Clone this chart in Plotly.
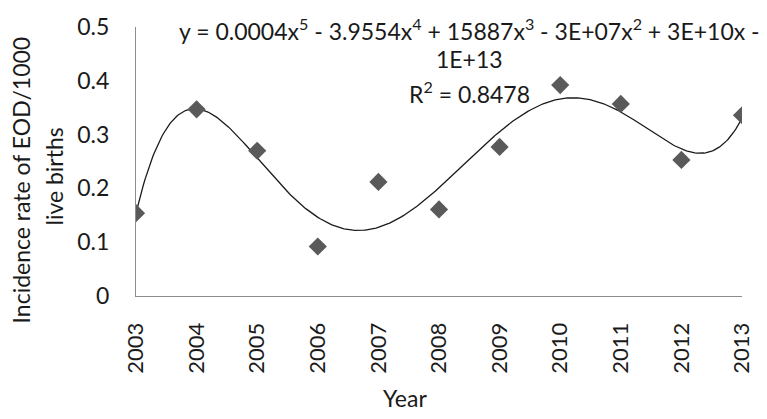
import numpy as np
import plotly.graph_objects as go

years = [2003, 2004, 2005, 2006, 2007, 2008, 2009, 2010, 2011, 2012, 2013]
rates = [0.154, 0.347, 0.270, 0.092, 0.212, 0.161, 0.277, 0.392, 0.357, 0.253, 0.336]
year_labels = [str(y) for y in years]
y_ticks = [0, 0.1, 0.2, 0.3, 0.4, 0.5]
y_tick_labels = ["0", "0.1", "0.2", "0.3", "0.4", "0.5"]
eq_line1 = "y = 0.0004x<sup>5</sup> - 3.9554x<sup>4</sup> + 15887x<sup>3</sup> - 3E+07x<sup>2</sup> + 3E+10x -"
eq_line2 = "1E+13"
eq_line3 = "R<sup>2</sup> = 0.8478"
y_title1 = "Incidence rate of EOD/1000"
y_title2 = "live births"
x_title = "Year"

# 5th-order polynomial trendline fitted to the data
xa = np.array(years, dtype=float)
ya = np.array(rates)
coef = np.polyfit(xa - 2008, ya, 5)
xs = np.linspace(2003, 2013, 400)
ys = np.polyval(coef, xs - 2008)

FONT = "Lato"
W, H = 767, 419
L, R, T, B = 136, 25, 19, 123
PW, PH = W - L - R, H - T - B


def px(x):
    return (x - L) / PW


def py(y):
    return (H - B - y) / PH


fig = go.Figure()
fig.add_trace(go.Scatter(x=xs, y=ys, mode="lines",
                         line=dict(color="#1a1a1a", width=1.3),
                         hoverinfo="skip", showlegend=False))
fig.add_trace(go.Scatter(x=years, y=rates, mode="markers",
                         marker=dict(symbol="diamond", size=14, color="#5a5a5a"),
                         showlegend=False))

ann_font = dict(family=FONT, size=23, color="#1a1a1a")
anns = [
    dict(text=eq_line1, x=px(469.5), y=py(22)),
    dict(text=eq_line2, x=px(469), y=py(52)),
    dict(text=eq_line3, x=px(469), y=py(86)),
    dict(text=x_title, x=px(405), y=py(401)),
    dict(text=y_title1, x=px(21), y=py(177), textangle=-90),
    dict(text=y_title2, x=px(54), y=py(173), textangle=-90),
]
for a in anns:
    fig.add_annotation(xref="paper", yref="paper", showarrow=False,
                       xanchor="center", yanchor="middle", font=ann_font, **a)

fig.update_layout(
    width=W, height=H,
    margin=dict(l=L, r=R, t=T, b=B, pad=0),
    paper_bgcolor="white", plot_bgcolor="white",
    font=dict(family=FONT, size=23, color="#1a1a1a"),
    xaxis=dict(range=[2003, 2013], tickvals=years, ticktext=year_labels,
               tickangle=-90, showgrid=False, zeroline=False,
               showline=True, linecolor="#8c8c8c", linewidth=1,
               ticks="", ticklabelstandoff=17, tickfont=dict(size=22)),
    yaxis=dict(range=[0, 0.5], tickvals=y_ticks, ticktext=y_tick_labels,
               showgrid=False, zeroline=False,
               showline=True, linecolor="#8c8c8c", linewidth=1,
               ticks="", ticklabelstandoff=21),
)
fig.write_html("out.html")
